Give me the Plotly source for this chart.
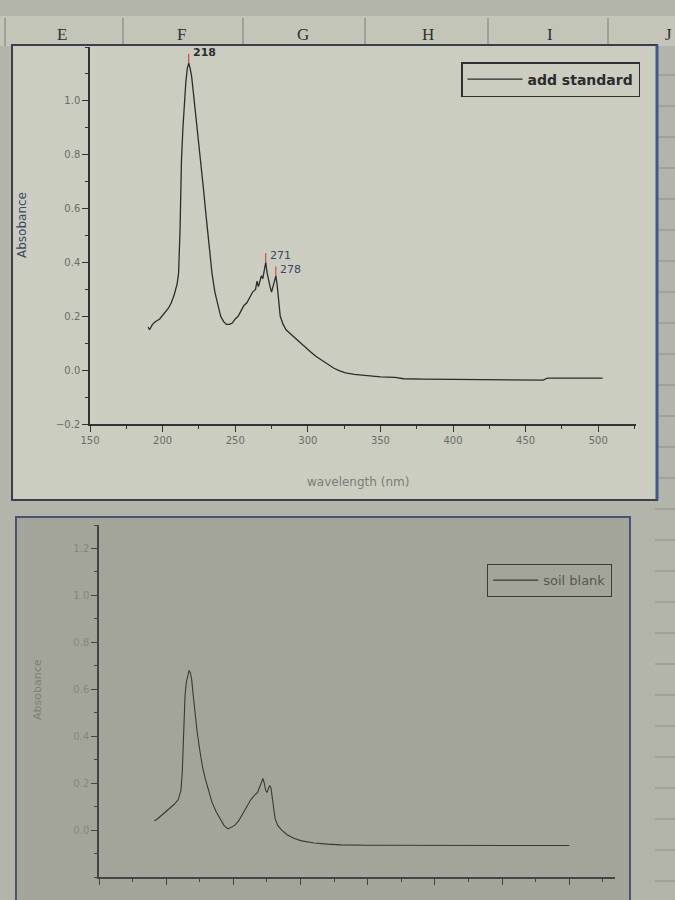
import plotly.graph_objects as go

# ---------------- data ----------------
wl_std = [190, 191, 193, 195, 198, 201, 204, 206, 208, 210, 211, 212, 213, 214, 215, 216, 217, 218,
          219, 220, 221, 222, 224, 226, 228, 230, 232, 234, 236, 238, 240, 242, 244, 246, 248, 250,
          252, 254, 256, 258, 260, 262, 264, 265, 266, 267, 268, 269, 270, 271, 272, 273, 274, 275,
          276, 277, 278, 279, 280, 281, 283, 285, 288, 291, 294, 298, 302, 306, 310, 314, 318, 322,
          326, 332, 340, 350, 360, 366, 380, 400, 420, 440, 462, 465, 480, 503]
abs_std = [0.16, 0.15, 0.17, 0.18, 0.19, 0.21, 0.23, 0.25, 0.28, 0.32, 0.36, 0.52, 0.78, 0.90, 1.00, 1.07, 1.12, 1.14,
           1.12, 1.09, 1.04, 0.99, 0.90, 0.79, 0.68, 0.57, 0.46, 0.36, 0.29, 0.24, 0.20, 0.18, 0.17, 0.17, 0.175, 0.19,
           0.20, 0.22, 0.24, 0.25, 0.27, 0.29, 0.30, 0.33, 0.31, 0.33, 0.35, 0.34, 0.37, 0.40, 0.36, 0.33, 0.31, 0.29,
           0.31, 0.34, 0.35, 0.31, 0.25, 0.20, 0.17, 0.15, 0.135, 0.12, 0.105, 0.085, 0.067, 0.05, 0.035, 0.02, 0.007, -0.003,
           -0.01, -0.016, -0.021, -0.025, -0.027, -0.032, -0.033, -0.034, -0.035, -0.036, -0.037, -0.03, -0.03, -0.03]

wl_blank = [191, 193, 196, 199, 202, 206, 209, 211, 212, 213, 214, 215, 216, 217, 218, 219, 220, 221, 223,
            225, 227, 229, 231, 234, 237, 240, 243, 246, 248, 251, 254, 257, 260, 263, 266, 268, 270, 272,
            273, 274, 275, 276, 277, 278, 279, 280, 281, 283, 286, 290, 295, 300, 310, 320, 330, 350, 400,
            450, 500]
abs_blank = [0.04, 0.045, 0.06, 0.075, 0.09, 0.11, 0.13, 0.17, 0.25, 0.45, 0.57, 0.63, 0.66, 0.68, 0.67, 0.64, 0.58, 0.52, 0.42,
             0.34, 0.27, 0.22, 0.18, 0.12, 0.08, 0.05, 0.02, 0.005, 0.01, 0.02, 0.04, 0.07, 0.10, 0.13, 0.15, 0.16, 0.19, 0.22,
             0.20, 0.17, 0.16, 0.18, 0.19, 0.18, 0.14, 0.09, 0.05, 0.02, 0.0, -0.02, -0.035, -0.045, -0.055, -0.06, -0.063, -0.065, -0.065,
             -0.066, -0.066]

peak_std = [218, 271, 278]
peak_labels = ["218", "271", "278"]

x_ticks = [150, 200, 250, 300, 350, 400, 450, 500]
y_ticks_top = [-0.2, 0.0, 0.2, 0.4, 0.6, 0.8, 1.0]
y_ticks_bot = [0.0, 0.2, 0.4, 0.6, 0.8, 1.0, 1.2]
col_letters = ["E", "F", "G", "H", "I", "J"]

# ---------------- layout helpers ----------------
W, H = 675, 900


def px(x):
    return x / W


def py(y):
    return 1 - y / H


fig = go.Figure()

fig.add_trace(go.Scatter(x=wl_std, y=abs_std, mode="lines", name="add standard", showlegend=True,
                         line=dict(color="#2b2c2c", width=1.3), xaxis="x", yaxis="y", legend="legend"))
fig.add_trace(go.Scatter(x=wl_blank, y=abs_blank, mode="lines", name="soil blank", showlegend=True,
                         line=dict(color="#383936", width=1.1), xaxis="x2", yaxis="y2", legend="legend2"))

tickfont_top = dict(family="DejaVu Sans", size=10, color="#6a6c66")
tickfont_bot = dict(family="DejaVu Sans", size=10, color="#85877f")

axis_common = dict(showgrid=False, zeroline=False, showline=True, ticks="outside", automargin=False)

shapes = []
# header row of the spreadsheet
shapes.append(dict(type="rect", xref="paper", yref="paper", x0=0, x1=1, y0=py(46), y1=py(16),
                   fillcolor="#c3c5b8", line=dict(width=0), layer="below"))
for sx in [5, 123, 243, 365, 488, 608]:
    shapes.append(dict(type="line", xref="paper", yref="paper", x0=px(sx), x1=px(sx), y0=py(46), y1=py(18),
                       line=dict(color="#7c7e76", width=1), layer="below"))
# spreadsheet grid on right edge
for gy in range(75, 900, 31):
    shapes.append(dict(type="line", xref="paper", yref="paper", x0=px(655), x1=1, y0=py(gy), y1=py(gy),
                       line=dict(color="#8f918a", width=1), layer="below"))
# top graph window
shapes.append(dict(type="rect", xref="paper", yref="paper", x0=px(12), x1=px(657), y0=py(500), y1=py(45),
                   fillcolor="#cbcdc1", line=dict(color="#3b3f4c", width=2), layer="below"))
shapes.append(dict(type="line", xref="paper", yref="paper", x0=px(657), x1=px(657), y0=py(500), y1=py(45),
                   line=dict(color="#3d5794", width=3), layer="below"))
# bottom graph window
shapes.append(dict(type="rect", xref="paper", yref="paper", x0=px(16), x1=px(630), y0=py(905), y1=py(517),
                   fillcolor="#a3a59a", line=dict(color="#4a5272", width=2), layer="below"))

# peak markers (red ticks) from data
annotations = []
for p, lab in zip(peak_std, peak_labels):
    v = abs_std[wl_std.index(p)]
    shapes.append(dict(type="line", xref="x", yref="y", x0=p, x1=p, y0=v, y1=v + 0.035,
                       line=dict(color="#d03030", width=1)))
    annotations.append(dict(x=p, y=v, xref="x", yref="y", text=lab, showarrow=False,
                            xanchor="left", yanchor="bottom", xshift=2, yshift=-2 if lab != "218" else 2,
                            font=dict(family="DejaVu Sans", size=11,
                                      weight="bold" if lab == "218" else "normal",
                                      color="#2e2e2e" if lab == "218" else "#3a4670")))

# header letters
for lx, letter in zip([62, 182, 303, 428, 550, 668], col_letters):
    annotations.append(dict(x=px(lx), y=py(34), xref="paper", yref="paper", text=letter, showarrow=False,
                            xanchor="center", yanchor="middle",
                            font=dict(family="Liberation Serif", size=17, color="#2f3030")))

# axis titles
annotations.append(dict(x=px(22), y=py(225), xref="paper", yref="paper", text="Absobance", textangle=-90,
                        xanchor="center", yanchor="middle",
                        showarrow=False, font=dict(family="DejaVu Sans", size=12, color="#3c4664")))
annotations.append(dict(x=px(358), y=py(482), xref="paper", yref="paper", text="wavelength (nm)",
                        xanchor="center", yanchor="middle",
                        showarrow=False, font=dict(family="DejaVu Sans", size=12, color="#7a7c76")))
annotations.append(dict(x=px(37), y=py(690), xref="paper", yref="paper", text="Absobance", textangle=-90,
                        xanchor="center", yanchor="middle",
                        showarrow=False, font=dict(family="DejaVu Sans", size=11, color="#7d7f78")))

fig.update_layout(
    width=W, height=H, autosize=False, showlegend=True,
    margin=dict(l=0, r=0, t=0, b=0, pad=0, autoexpand=False),
    paper_bgcolor="#b3b5aa", plot_bgcolor="rgba(0,0,0,0)",
    xaxis=dict(domain=[px(90), px(636)], range=[150, 526], anchor="y",
               tickvals=x_ticks, ticklen=6, tickcolor="#333", linecolor="#333", linewidth=1.5,
               minor=dict(dtick=25, tick0=150, ticks="outside", ticklen=3, tickcolor="#333"),
               tickfont=tickfont_top, **axis_common),
    yaxis=dict(domain=[py(424), py(47)], range=[-0.2, 1.2], anchor="x",
               tickvals=y_ticks_top, tickformat=".1f", ticklen=6, tickcolor="#333", linecolor="#333",
               linewidth=1.5, minor=dict(dtick=0.1, tick0=0, ticks="outside", ticklen=3, tickcolor="#333"),
               tickfont=tickfont_top, **axis_common),
    xaxis2=dict(domain=[px(99), px(615)], range=[150, 534], anchor="y2",
                tickvals=x_ticks, ticklen=6, tickcolor="#444", linecolor="#444", linewidth=1.5,
                showticklabels=False,
                minor=dict(dtick=25, tick0=150, ticks="outside", ticklen=3, tickcolor="#444"),
                **axis_common),
    yaxis2=dict(domain=[py(877), py(525)], range=[-0.2, 1.3], anchor="x2",
                tickvals=y_ticks_bot, tickformat=".1f", ticklen=6, tickcolor="#444", linecolor="#444",
                linewidth=1.5, minor=dict(dtick=0.1, tick0=0, ticks="outside", ticklen=3, tickcolor="#444"),
                tickfont=tickfont_bot, **axis_common),
    legend=dict(visible=True, x=px(640), y=py(62), xanchor="right", yanchor="top", bgcolor="rgba(0,0,0,0)",
                bordercolor="#2f3030", borderwidth=1.5, itemwidth=55,
                font=dict(family="DejaVu Sans", size=14, weight="bold", color="#2b2c2c")),
    legend2=dict(visible=True, x=px(612), y=py(564), xanchor="right", yanchor="top", bgcolor="rgba(0,0,0,0)",
                 bordercolor="#3a3b38", borderwidth=1.2, itemwidth=45,
                 font=dict(family="DejaVu Sans", size=13, color="#55574f")),
    shapes=shapes,
    annotations=annotations,
)

fig.write_html("out.html", config={"displayModeBar": False},
               post_script="document.body.style.margin='0';")
